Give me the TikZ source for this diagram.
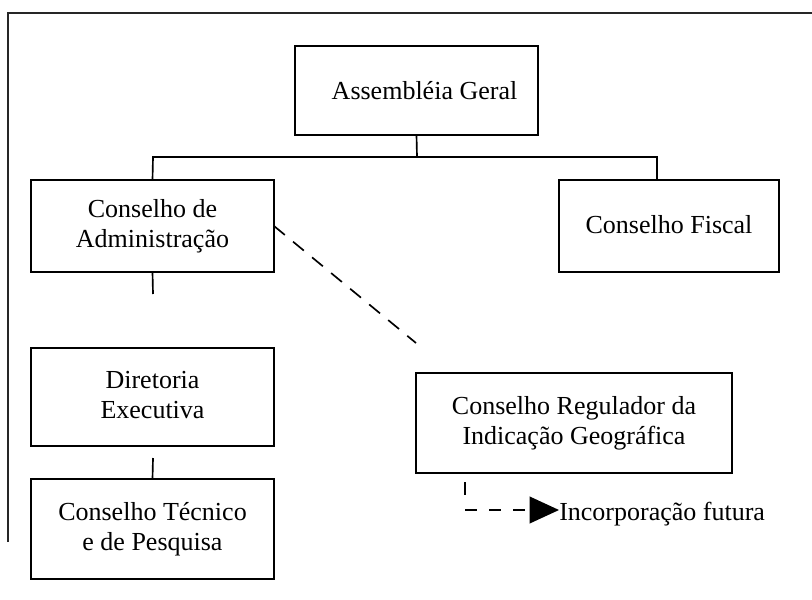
\documentclass[tikz,border=0pt]{standalone}
\usepackage{fontspec}
\setmainfont{Liberation Serif}
\usetikzlibrary{arrows.meta}
\newcommand\upliftbox[2]{\raisebox{#1}{\begin{tabular}{@{}c@{}}#2\end{tabular}}}
\begin{document}
\begin{tikzpicture}[x=0.75pt,y=-0.75pt,
  box/.style={draw,line width=1.5pt,inner sep=0pt,outer sep=0pt,align=center,
    font=\fontsize{19.5}{22.5}\selectfont},
  conn/.style={line width=1.25pt},
  diagdash/.style={line width=1.25pt,dash pattern=on 10.5pt off 8pt},
  dashconn/.style={line width=1.25pt,dash pattern=on 9pt off 9pt}]
\useasboundingbox (0,0) rectangle (812,599);
% outer frame
\coordinate (fb) at (8,542);
\coordinate (ftl) at (8,13);
\coordinate (ftr) at (812,13);
\draw[line width=1.3pt,black!85] (fb) -- (ftl) -- (ftr);
% boxes
\node[box,minimum width=182.25pt,minimum height=66.75pt] (ag) at (416.5,90.5) {\hspace*{12pt}Assembléia Geral};
\node[box,minimum width=182.25pt,minimum height=69pt] (ca) at (152.5,226) {\upliftbox{1pt}{Conselho de\\Administração}};
\node[box,minimum width=165pt,minimum height=69pt] (cf) at (669,226) {\raisebox{2pt}{Conselho Fiscal}};
\node[box,minimum width=182.25pt,minimum height=73.5pt] (de) at (152.5,397) {\upliftbox{4pt}{Diretoria\\Executiva}};
\node[box,minimum width=182.25pt,minimum height=75pt] (ct) at (152.5,529) {\upliftbox{4pt}{Conselho Técnico\\e de Pesquisa}};
\node[box,minimum width=237pt,minimum height=75pt] (cr) at (574,423) {\upliftbox{4pt}{Conselho Regulador da\\Indicação Geográfica}};
\node[anchor=base west,inner sep=0pt,font=\fontsize{19.5}{22.5}\selectfont] (inc) at (559,520) {Incorporação futura};
% connectors
\coordinate (hj) at (417,157);
\coordinate (hl) at (153,157);
\coordinate (hr) at (657,157);
\draw[conn] (ag.south) -- (hj);
\draw[conn] (ca.north) -- (hl) -- (hr) -- (hr |- cf.north);
\coordinate (cas) at (153,294);
\draw[conn] (ca.south) -- (cas);
\coordinate (ctn) at (153,458);
\draw[conn] (ct.north) -- (ctn);
\coordinate (dend) at (416,343);
\draw[diagdash] (ca.east) -- (dend);
\coordinate (rs1) at (465,482);
\coordinate (rs2) at (465,495);
\draw[line width=1.7pt] (rs1) -- (rs2);
\coordinate (ds) at (465,510);
\draw[dashconn,-{Triangle[length=22pt,width=20pt]}] (ds) -- (inc.west |- ds);
\end{tikzpicture}
\end{document}
